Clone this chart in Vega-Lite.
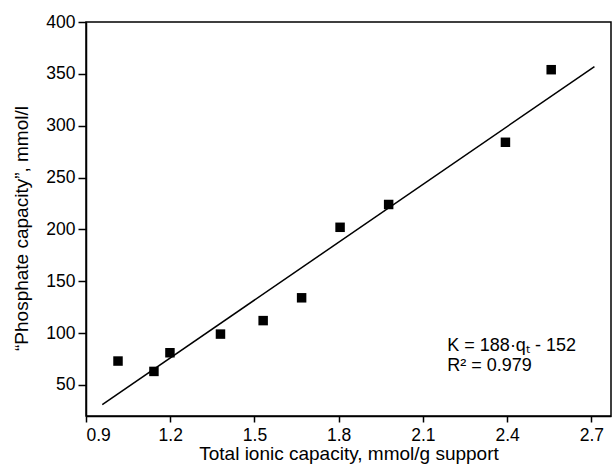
{
  "$schema": "https://vega.github.io/schema/vega-lite/v6.json",
  "width": 525,
  "height": 394,
  "autosize": {"type": "none"},
  "padding": {"left": 86, "top": 22, "right": 1, "bottom": 60},
  "background": "white",
  "config": {
    "font": "Liberation Sans",
    "view": {"stroke": "black", "strokeWidth": 1.5},
    "axis": {
      "domainColor": "black", "domainWidth": 1.5, "tickColor": "black", "tickWidth": 1.5,
      "tickSize": 5, "labelColor": "black", "labelFontSize": 17.5, "titleColor": "black",
      "titleFontSize": 19, "titleFontWeight": "normal", "grid": false, "labelFont": "Liberation Sans", "titleFont": "Liberation Sans"
    }
  },
  "datasets": {
    "pts": [
      {"q": 1.014, "K": 73},
      {"q": 1.142, "K": 63},
      {"q": 1.199, "K": 81},
      {"q": 1.379, "K": 99},
      {"q": 1.531, "K": 112},
      {"q": 1.668, "K": 134},
      {"q": 1.805, "K": 202},
      {"q": 1.978, "K": 224},
      {"q": 2.394, "K": 284},
      {"q": 2.557, "K": 354}
    ],
    "fit": [
      {"q": 0.958, "K": 31},
      {"q": 2.711, "K": 357}
    ],
    "ann": [
      {"q": 2.187, "K": 83, "t": "K = 188·qₜ - 152"},
      {"q": 2.187, "K": 63, "t": "R² = 0.979"}
    ]
  },
  "layer": [
    {
      "data": {"name": "fit"},
      "mark": {"type": "line", "color": "black", "strokeWidth": 1.5},
      "encoding": {
        "x": {"field": "q", "type": "quantitative", "scale": {"domain": [0.9, 2.77], "nice": false, "zero": false},
          "axis": {"values": [0.9, 1.2, 1.5, 1.8, 2.1, 2.4, 2.7], "format": ".1f", "title": "Total ionic capacity, mmol/g support", "titlePadding": 1, "labelPadding": 4, "tickSize": 6}},
        "y": {"field": "K", "type": "quantitative", "scale": {"domain": [20, 400], "nice": false, "zero": false},
          "axis": {"values": [50, 100, 150, 200, 250, 300, 350, 400], "title": "“Phosphate capacity”, mmol/l", "titlePadding": 14, "labelPadding": 3, "tickSize": 8, "titleY": 206}}
      }
    },
    {
      "data": {"name": "pts"},
      "mark": {"type": "square", "color": "black", "opacity": 1, "size": 90},
      "encoding": {
        "x": {"field": "q", "type": "quantitative"},
        "y": {"field": "K", "type": "quantitative"}
      }
    },
    {
      "data": {"name": "ann"},
      "mark": {"type": "text", "align": "left", "baseline": "alphabetic", "fontSize": 18, "color": "black", "font": "Liberation Sans"},
      "encoding": {
        "x": {"field": "q", "type": "quantitative"},
        "y": {"field": "K", "type": "quantitative"},
        "text": {"field": "t"}
      }
    }
  ]
}
